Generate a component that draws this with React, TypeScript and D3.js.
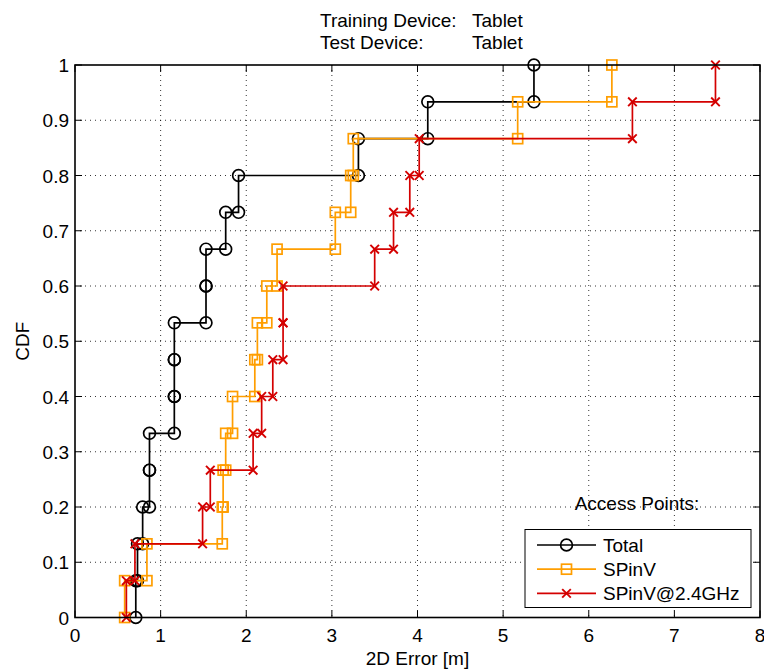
import React from "react";
import * as d3 from "d3";

const N = 15;
const totalErrors = [0.71, 0.73, 0.79, 0.87, 0.87, 1.16, 1.16, 1.16, 1.53, 1.53, 1.76, 1.91, 3.31, 4.12, 5.36];
const spinvErrors = [0.58, 0.84, 1.72, 1.73, 1.76, 1.84, 2.1, 2.13, 2.24, 2.36, 3.04, 3.22, 3.25, 5.17, 6.27];
const spinv24Errors = [0.6, 0.7, 1.49, 1.58, 2.08, 2.18, 2.31, 2.43, 2.43, 3.5, 3.72, 3.91, 4.02, 6.51, 7.48];
const seriesNames = ["Total", "SPinV", "SPinV@2.4GHz"];
const xTicks = [0, 1, 2, 3, 4, 5, 6, 7, 8];
const yTicks = [0, 0.1, 0.2, 0.3, 0.4, 0.5, 0.6, 0.7, 0.8, 0.9, 1];

const colors = ["#000000", "#ff9e00", "#d40000"];
const markers = ["circle", "square", "x"];
const FONT = "'Liberation Sans', Arial, Helvetica, sans-serif";

function toPoints(errs: number[]): [number, number][] {
  const pts: [number, number][] = [];
  errs.forEach((e, i) => {
    pts.push([e, i / N]);
    pts.push([e, (i + 1) / N]);
  });
  return pts;
}

function Marker({ type, x, y, color }: { type: string; x: number; y: number; color: string }) {
  if (type === "circle") return <circle cx={x} cy={y} r={5.9} fill="none" stroke={color} strokeWidth={1.7} />;
  if (type === "square") return <rect x={x - 5} y={y - 5} width={10} height={10} fill="none" stroke={color} strokeWidth={1.7} />;
  const s = 4.3;
  return (
    <g stroke={color} strokeWidth={1.9}>
      <line x1={x - s} y1={y - s} x2={x + s} y2={y + s} />
      <line x1={x - s} y1={y + s} x2={x + s} y2={y - s} />
    </g>
  );
}

export default function App() {
  const W = 764, H = 671;
  const left = 75, right = 760, top = 65, bottom = 617.5;
  const x = d3.scaleLinear().domain([0, 8]).range([left, right]);
  const y = d3.scaleLinear().domain([0, 1]).range([bottom, top]);
  const line = d3.line<[number, number]>().x(d => x(d[0])).y(d => y(d[1]));
  const all = [totalErrors, spinvErrors, spinv24Errors];
  const tick = 7;
  const fs = 19;

  return (
    <svg width={W} height={H} style={{ position: "absolute", left: 0, top: 0, background: "#fff" }} fontFamily={FONT}>
      <rect x={0} y={0} width={W} height={H} fill="#fff" />
      {/* title */}
      <g fontSize={fs} fill="#000">
        <text x={320} y={27}>Training Device:</text>
        <text x={472} y={27}>Tablet</text>
        <text x={320} y={49}>Test Device:</text>
        <text x={472} y={49}>Tablet</text>
      </g>
      {/* grid */}
      <g stroke="#000" strokeWidth={0.8} strokeDasharray="1,4">
        {xTicks.slice(1, -1).map(t => (
          <line key={"gx" + t} x1={x(t)} x2={x(t)} y1={top} y2={bottom} />
        ))}
        {yTicks.slice(1, -1).map(t => (
          <line key={"gy" + t} x1={left} x2={right} y1={y(t)} y2={y(t)} />
        ))}
      </g>
      {/* ticks */}
      <g stroke="#000" strokeWidth={1}>
        {xTicks.map(t => (
          <g key={"tx" + t}>
            <line x1={x(t)} x2={x(t)} y1={bottom} y2={bottom - tick} />
            <line x1={x(t)} x2={x(t)} y1={top} y2={top + tick} />
          </g>
        ))}
        {yTicks.map(t => (
          <g key={"ty" + t}>
            <line x1={left} x2={left + tick} y1={y(t)} y2={y(t)} />
            <line x1={right} x2={right - tick} y1={y(t)} y2={y(t)} />
          </g>
        ))}
      </g>
      {/* series */}
      {all.map((errs, si) => {
        const pts = toPoints(errs);
        return (
          <g key={"s" + si}>
            <path d={line(pts) || ""} fill="none" stroke={colors[si]} strokeWidth={1.7} />
            {pts.map((p, i) => (
              <Marker key={i} type={markers[si]} x={x(p[0])} y={y(p[1])} color={colors[si]} />
            ))}
          </g>
        );
      })}
      {/* axes box */}
      <rect x={left} y={top} width={right - left} height={bottom - top} fill="none" stroke="#000" strokeWidth={1.6} />
      {/* tick labels */}
      <g fontSize={fs} fill="#000">
        {xTicks.map(t => (
          <text key={"lx" + t} x={x(t)} y={642} textAnchor="middle">{t}</text>
        ))}
        {yTicks.map(t => (
          <text key={"ly" + t} x={69} y={y(t) + 7} textAnchor="end">{String(+t.toFixed(1))}</text>
        ))}
        <text x={(left + right) / 2} y={665} textAnchor="middle">2D Error [m]</text>
        <text transform={`translate(28.5,${(top + bottom) / 2}) rotate(-90)`} textAnchor="middle">CDF</text>
        <text x={637} y={509.5} textAnchor="middle">Access Points:</text>
      </g>
      {/* legend */}
      <g>
        <rect x={525} y={529.5} width={226} height={78} fill="#fff" stroke="#000" strokeWidth={1} />
        {seriesNames.map((n, i) => {
          const ly = 545 + i * 24.2;
          return (
            <g key={n}>
              <line x1={537} x2={596} y1={ly} y2={ly} stroke={colors[i]} strokeWidth={1.7} />
              <Marker type={markers[i]} x={566.5} y={ly} color={colors[i]} />
              <text x={603} y={ly + 7} fontSize={fs} fill="#000">{n}</text>
            </g>
          );
        })}
      </g>
    </svg>
  );
}
